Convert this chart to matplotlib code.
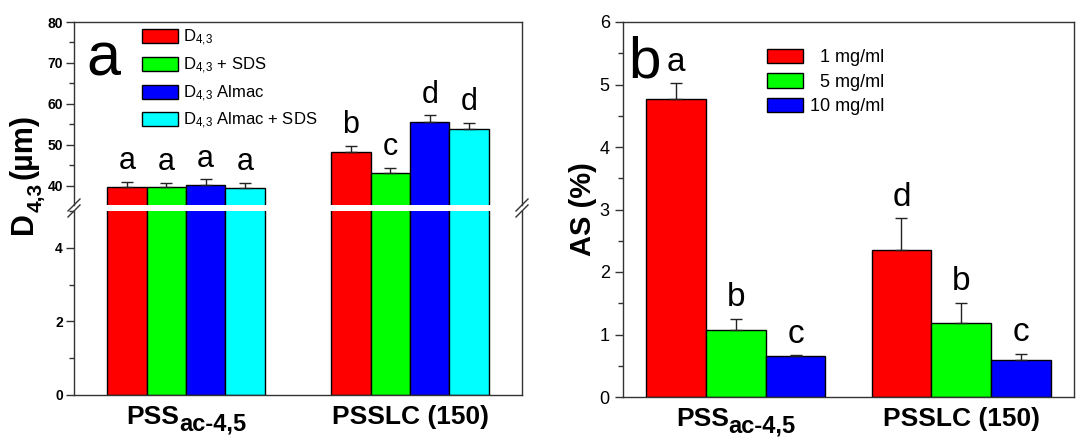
import numpy as np
import matplotlib
matplotlib.use('Agg')
from matplotlib import pyplot as plt
from matplotlib.lines import Line2D
from matplotlib.ticker import MultipleLocator

plt.rcParams['font.family'] = ['Liberation Sans', 'DejaVu Sans']
plt.rcParams['mathtext.default'] = 'regular'

# ---------------- data
# group labels as (text, subscript) pairs
groups = [('PSS', 'ac-4,5'), ('PSSLC (150)', '')]

a_labels = [r'D$_{4,\!3}$', r'D$_{4,\!3}$ + SDS', r'D$_{4,\!3}$ Almac', r'D$_{4,\!3}$ Almac + SDS']
a_values = [[39.7, 48.15], [39.7, 43.2], [40.3, 55.6], [39.4, 53.75]]
a_errors = [[1.3, 1.6], [1.0, 1.2], [1.3, 1.6], [1.3, 1.6]]
a_letters = [['a', 'b'], ['a', 'c'], ['a', 'd'], ['a', 'd']]
a_colors = ['#ff0000', '#00ff00', '#0000ff', '#00ffff']

b_labels = ['  1 mg/ml', '  5 mg/ml', '10 mg/ml']
b_values = [[4.77, 2.35], [1.08, 1.18], [0.66, 0.59]]
b_errors = [[0.25, 0.51], [0.17, 0.33], [0.01, 0.10]]
b_letters = [['a', 'd'], ['b', 'b'], ['c', 'c']]
b_colors = ['#ff0000', '#00ff00', '#0000ff']

W, H = 1078, 437
fig = plt.figure(figsize=(W / 100, H / 100), dpi=100)
renderer = fig.canvas.get_renderer()

def box(x0, y0, x1, y1):
    return [x0 / W, 1 - y1 / H, (x1 - x0) / W, (y1 - y0) / H]

spine_col = '#333333'

def style(ax, labelsize, bold, pad=3.5):
    for s in ax.spines.values():
        s.set_color(spine_col)
        s.set_linewidth(1.0)
    ax.tick_params(axis='y', which='major', direction='out', length=6, width=1,
                   color=spine_col, labelsize=labelsize, pad=pad)
    ax.tick_params(axis='y', which='minor', direction='out', length=3.5, width=1, color=spine_col)
    ax.tick_params(axis='x', length=0)
    if bold:
        for t in ax.get_yticklabels():
            t.set_fontweight('bold')

def compose(cx, cy, parts, rotate=False):
    # parts: (text, fontsize, gap_before_px, baseline_drop_px); cx, cy in display px
    texts, widths = [], []
    for s, size, gap, drop in parts:
        t = fig.text(0, 0, s, fontsize=size, fontweight='bold', ha='left', va='baseline',
                     rotation_mode='anchor')
        widths.append(t.get_window_extent(renderer).width)
        texts.append(t)
    total = sum(widths) + sum(p[2] for p in parts)
    pos = -total / 2
    for t, w, (s, size, gap, drop) in zip(texts, widths, parts):
        pos += gap
        if rotate:
            t.set_rotation(90)
            t.set_position(((cx + drop) / W, (cy + pos) / H))
        else:
            t.set_position(((cx + pos) / W, (cy - drop) / H))
        pos += w

def group_labels(ax):
    for i, (main, sub) in enumerate(groups):
        cx = ax.transData.transform((i, 0))[0]
        base = ax.transAxes.transform((0, 0))[1] - 29
        parts = [(main, 19, 0, 0)]
        if sub:
            parts.append((sub, 17, 0, 7))
        compose(cx, base, parts)

# ---------------- panel a (broken axis)
ax_up = fig.add_axes(box(74, 22, 522, 205))
ax_lo = fig.add_axes(box(74, 211, 522, 395))
x = np.arange(len(groups))
wa = 0.176
for i in range(4):
    pos = x + (i - 1.5) * wa
    for ax in (ax_up, ax_lo):
        ax.bar(pos, a_values[i], wa, color=a_colors[i], edgecolor='black', linewidth=1,
               label=a_labels[i])
    ax_up.errorbar(pos, a_values[i], yerr=[np.zeros(2), a_errors[i]], fmt='none',
                   ecolor='#222222', elinewidth=1, capsize=4, capthick=1)
    for j in range(2):
        ax_up.annotate(a_letters[i][j], (pos[j], a_values[i][j] + a_errors[i][j]),
                       xytext=(0, 4), textcoords='offset points', ha='center', va='bottom',
                       fontsize=22)

ax_up.set_ylim(35.3, 80)
ax_lo.set_ylim(0, 5)
for ax in (ax_up, ax_lo):
    ax.set_xlim(-0.5, 1.5)
ax_up.set_yticks([40, 50, 60, 70, 80])
ax_up.yaxis.set_minor_locator(MultipleLocator(5))
ax_lo.set_yticks([0, 2, 4])
ax_lo.yaxis.set_minor_locator(MultipleLocator(1))
ax_up.spines['bottom'].set_visible(False)
ax_lo.spines['top'].set_visible(False)
ax_up.set_xticks([])
ax_lo.set_xticks([])
style(ax_up, 10, True, pad=2)
style(ax_lo, 10, True, pad=2)
group_labels(ax_lo)

ax_up.legend(loc='upper left', bbox_to_anchor=(130 / W, 1 - 16 / H), bbox_transform=fig.transFigure,
             frameon=False, fontsize=12, handlelength=2.2, handleheight=0.9,
             labelspacing=0.45, handletextpad=0.3, borderpad=0.2)
ax_up.text(0.028, 0.95, 'a', transform=ax_up.transAxes, fontsize=44, va='top', ha='left')

# y label of panel a: D4,3 (µm) with a lowered subscript
compose(32, H - 174, [('D', 22, 0, 0), ('4,3', 15, 0, 10), ('(\u00b5m)', 22, 4, 0)], rotate=True)

# break marks
for xb in (74, 522):
    for dy in (-3, 3):
        fig.add_artist(Line2D([(xb - 6) / W, (xb + 6) / W],
                              [1 - (208 + dy + 6) / H, 1 - (208 + dy - 6) / H],
                              color=spine_col, lw=1))

# ---------------- panel b
ax_b = fig.add_axes(box(623, 22, 1074, 397))
wb = 0.265
for i in range(3):
    pos = x + (i - 1) * wb
    ax_b.bar(pos, b_values[i], wb, color=b_colors[i], edgecolor='black', linewidth=1,
             label=b_labels[i])
    ax_b.errorbar(pos, b_values[i], yerr=[np.zeros(2), b_errors[i]], fmt='none',
                  ecolor='#222222', elinewidth=1, capsize=4, capthick=1)
    for j in range(2):
        ax_b.annotate(b_letters[i][j], (pos[j], b_values[i][j] + b_errors[i][j]),
                      xytext=(0, 4), textcoords='offset points', ha='center', va='bottom',
                      fontsize=24)
ax_b.set_xlim(-0.5, 1.5)
ax_b.set_ylim(0, 6)
ax_b.yaxis.set_major_locator(MultipleLocator(1))
ax_b.yaxis.set_minor_locator(MultipleLocator(0.5))
ax_b.set_xticks([])
style(ax_b, 13, False)
group_labels(ax_b)
ax_b.set_ylabel('AS (%)', fontsize=21, fontweight='bold', labelpad=2)
ax_b.legend(loc='upper left', bbox_to_anchor=(754 / W, 1 - 36 / H), bbox_transform=fig.transFigure,
            frameon=False, fontsize=13, handlelength=2.0, handleheight=0.85,
            labelspacing=0.4, handletextpad=0.4, borderpad=0.2)
ax_b.text(0.012, 0.965, 'b', transform=ax_b.transAxes, fontsize=42, va='top', ha='left')

fig.savefig('out.png', dpi=100)
